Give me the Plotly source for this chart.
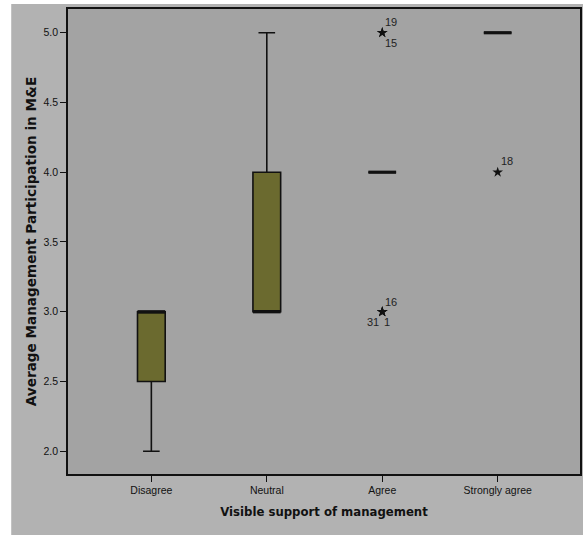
import plotly.graph_objects as go

# Groups on the x axis
categories = ["Disagree", "Neutral", "Agree", "Strongly agree"]

# Five-number summaries of average participation per group
lower_whisker = [2.0, 3.0, 4.0, 5.0]
q1 = [2.5, 3.0, 4.0, 5.0]
median = [3.0, 3.0, 4.0, 5.0]
q3 = [3.0, 4.0, 4.0, 5.0]
upper_whisker = [3.0, 5.0, 4.0, 5.0]

# Extreme cases (group, value, case number)
outlier_group = ["Agree", "Agree", "Agree", "Agree", "Agree", "Strongly agree"]
outlier_value = [5.0, 5.0, 3.0, 3.0, 3.0, 4.0]
outlier_case = ["19", "15", "16", "31", "1", "18"]
# label offsets in pixels (dx, dy) from each star
label_offset = {"19": (9, 11), "15": (9, -10), "16": (9, 10),
                "31": (-9, -10), "1": (5, -10), "18": (9, 11)}

tick_vals = [2.0, 2.5, 3.0, 3.5, 4.0, 4.5, 5.0]

BOX_W = 0.24
FILL = "#6b6a2f"
PLOT_BG = "#a3a3a3"
PAPER_BG = "#b2b2b2"

fig = go.Figure()

for i, name in enumerate(categories):
    fig.add_trace(go.Box(
        x=[i], q1=[q1[i]], median=[median[i]], q3=[q3[i]],
        lowerfence=[lower_whisker[i]], upperfence=[upper_whisker[i]],
        width=BOX_W, whiskerwidth=0.6, fillcolor=FILL,
        line=dict(color="#111111", width=1.6),
        boxpoints=False, showlegend=False, hoverinfo="skip",
    ))
    # heavier median bar
    fig.add_trace(go.Scatter(
        x=[i - BOX_W / 2, i + BOX_W / 2], y=[median[i], median[i]],
        mode="lines", line=dict(color="#111111", width=3.2),
        showlegend=False, hoverinfo="skip",
    ))

ox = [categories.index(g) for g in outlier_group]
fig.add_trace(go.Scatter(
    x=ox, y=outlier_value, mode="markers",
    marker=dict(symbol="star", size=8, color="#111111"),
    showlegend=False, hoverinfo="skip",
))

for xi, v, case in zip(ox, outlier_value, outlier_case):
    dx, dy = label_offset[case]
    fig.add_annotation(
        x=xi, y=v, text=case, showarrow=False,
        xshift=dx, yshift=dy,
        font=dict(family="Liberation Sans", size=11, color="#222222"),
    )

# white strips around the grey frame
fig.add_shape(type="rect", xref="paper", yref="paper",
              x0=-0.2, x1=(11 - 68) / 514, y0=-0.2, y1=1.2,
              fillcolor="white", line_width=0, layer="below")
fig.add_shape(type="rect", xref="paper", yref="paper",
              x0=-0.2, x1=1.2, y0=(474 - 4) / 465, y1=1.2,
              fillcolor="white", line_width=0, layer="below")

axis_font = dict(family="Liberation Sans", size=10.5, color="#111111")

fig.update_layout(
    width=583, height=535,
    margin=dict(l=68, r=1, t=9, b=61),
    paper_bgcolor=PAPER_BG, plot_bgcolor=PLOT_BG,
    xaxis=dict(
        range=[-0.722, 3.713], tickmode="array",
        tickvals=list(range(len(categories))), ticktext=categories,
        ticks="outside", ticklen=6, tickcolor="#111111", tickwidth=1,
        showline=True, linecolor="#111111", linewidth=1.5, mirror=True,
        showgrid=False, zeroline=False, tickfont=axis_font,
        title=dict(text="Visible support of management",
                   font=dict(family="DejaVu Sans Condensed", size=13,
                             color="#111111", weight="bold"), standoff=12),
    ),
    yaxis=dict(
        range=[1.837, 5.170], tickmode="array", tickvals=tick_vals,
        ticktext=[f"{v:.1f}" for v in tick_vals],
        ticks="outside", ticklen=6, tickcolor="#111111", tickwidth=1,
        showline=True, linecolor="#111111", linewidth=1.5, mirror=True,
        showgrid=False, zeroline=False, tickfont=axis_font,
        title=dict(text="Average Management Participation in M&E",
                   font=dict(family="DejaVu Sans", size=13.6, color="#111111",
                             weight="bold"), standoff=4),
    ),
)

fig.write_html("out.html")
